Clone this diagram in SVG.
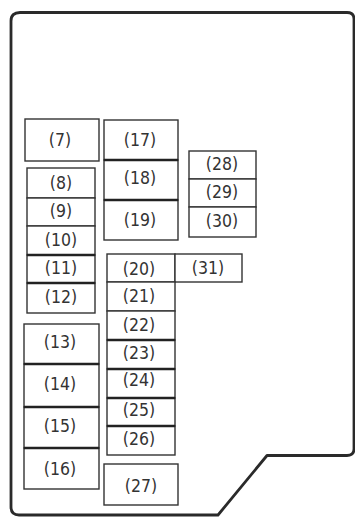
<svg xmlns="http://www.w3.org/2000/svg" width="355" height="517" viewBox="0 0 355 517">
<style>
.b{fill:#fff;stroke:#333;stroke-width:1.4}
.d{stroke:#222;stroke-width:2.4}
.t{font-family:"DejaVu Sans Condensed","Liberation Sans",Arial,sans-serif;font-stretch:condensed;font-size:17.5px;fill:#333;text-anchor:middle;dominant-baseline:central}
.o{fill:none;stroke:#2a2a2a;stroke-width:2.8;stroke-linejoin:round}
</style>
<rect width="355" height="517" fill="#fff"/>
<path class="o" d="M11,21 Q11,12.5 20,12.5 H347 Q354,12.5 354,19 V449 Q354,455.5 347,455.5 H267 L218,515 H19 Q11,515 11,507 Z"/>
<g id="connectors"></g>
<g id="n7"><rect class="b" x="25" y="119" width="74" height="42"/><text class="t" x="60" y="140">(7)</text></g>
<g id="n17"><rect class="b" x="104" y="120" width="74" height="40"/><text class="t" x="140" y="140">(17)</text></g>
<g id="n18"><rect class="b" x="104" y="160" width="74" height="40"/><text class="t" x="140" y="178">(18)</text></g>
<g id="n19"><rect class="b" x="104" y="200" width="74" height="40"/><text class="t" x="140" y="220">(19)</text></g>
<line class="d" x1="104" y1="160" x2="178" y2="160"/>
<line class="d" x1="104" y1="200" x2="178" y2="200"/>
<g id="n8"><rect class="b" x="27" y="168" width="68" height="30"/><text class="t" x="61" y="183">(8)</text></g>
<g id="n9"><rect class="b" x="27" y="198" width="68" height="28"/><text class="t" x="61" y="211">(9)</text></g>
<g id="n10"><rect class="b" x="27" y="226" width="68" height="29"/><text class="t" x="61" y="240">(10)</text></g>
<g id="n11"><rect class="b" x="27" y="255" width="68" height="28"/><text class="t" x="61" y="268">(11)</text></g>
<g id="n12"><rect class="b" x="27" y="283" width="68" height="30"/><text class="t" x="61" y="297">(12)</text></g>
<line class="d" x1="27" y1="255" x2="95" y2="255"/>
<line class="d" x1="27" y1="283" x2="95" y2="283"/>
<g id="n28"><rect class="b" x="189" y="151" width="67" height="28"/><text class="t" x="222" y="164">(28)</text></g>
<g id="n29"><rect class="b" x="189" y="179" width="67" height="28"/><text class="t" x="222" y="192">(29)</text></g>
<g id="n30"><rect class="b" x="189" y="207" width="67" height="30"/><text class="t" x="222" y="221">(30)</text></g>
<g id="n20"><rect class="b" x="107" y="254" width="68" height="28"/><text class="t" x="139" y="269">(20)</text></g>
<g id="n31"><rect class="b" x="175" y="254" width="67" height="28"/><text class="t" x="208" y="268">(31)</text></g>
<g id="n21"><rect class="b" x="107" y="282" width="68" height="29"/><text class="t" x="139" y="296">(21)</text></g>
<g id="n22"><rect class="b" x="107" y="311" width="68" height="29"/><text class="t" x="139" y="325">(22)</text></g>
<g id="n23"><rect class="b" x="107" y="340" width="68" height="29"/><text class="t" x="139" y="353">(23)</text></g>
<g id="n24"><rect class="b" x="107" y="369" width="68" height="29"/><text class="t" x="139" y="380">(24)</text></g>
<g id="n25"><rect class="b" x="107" y="398" width="68" height="28"/><text class="t" x="139" y="410">(25)</text></g>
<g id="n26"><rect class="b" x="107" y="426" width="68" height="29"/><text class="t" x="139" y="439">(26)</text></g>
<line class="d" x1="107" y1="340" x2="175" y2="340"/>
<line class="d" x1="107" y1="369" x2="175" y2="369"/>
<line class="d" x1="107" y1="398" x2="175" y2="398"/>
<line class="d" x1="107" y1="426" x2="175" y2="426"/>
<g id="n13"><rect class="b" x="24" y="324" width="75" height="40"/><text class="t" x="60" y="342">(13)</text></g>
<g id="n14"><rect class="b" x="24" y="364" width="75" height="43"/><text class="t" x="60" y="384">(14)</text></g>
<g id="n15"><rect class="b" x="24" y="407" width="75" height="41"/><text class="t" x="60" y="426">(15)</text></g>
<g id="n16"><rect class="b" x="24" y="448" width="75" height="41"/><text class="t" x="60" y="469">(16)</text></g>
<line class="d" x1="24" y1="364" x2="99" y2="364"/>
<line class="d" x1="24" y1="407" x2="99" y2="407"/>
<line class="d" x1="24" y1="448" x2="99" y2="448"/>
<g id="n27"><rect class="b" x="104" y="464" width="74" height="41"/><text class="t" x="141" y="486">(27)</text></g>
</svg>
